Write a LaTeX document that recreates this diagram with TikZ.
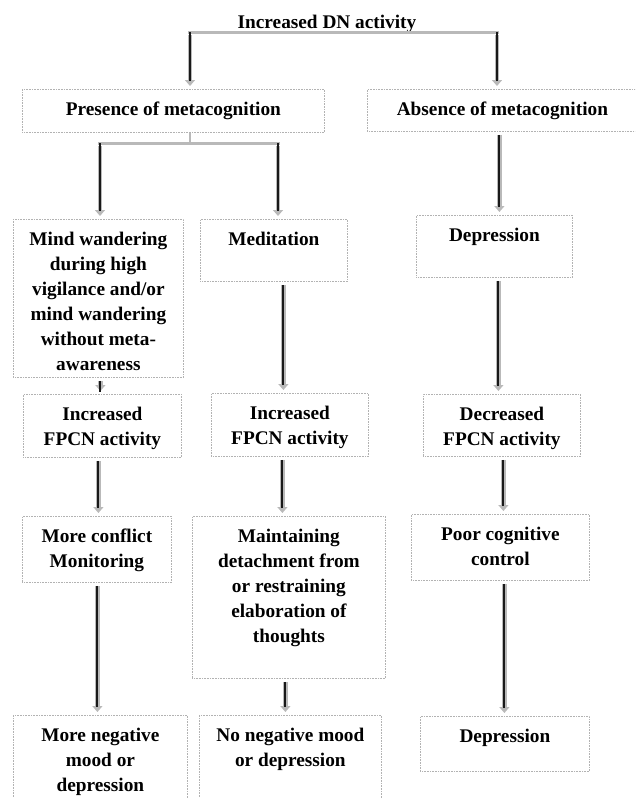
\documentclass[tikz,border=0pt]{standalone}
\usepackage{fontspec}
\setmainfont{Liberation Serif}
\usetikzlibrary{arrows.meta,calc}
\tikzset{
  box/.style={draw=gray!60, dash pattern=on 0.7pt off 0.9pt, line width=0.8pt, inner sep=0pt, anchor=north west},
  gline/.style={draw=gray!55, line width=3pt},
  arr/.style={preaction={draw, line width=4.4pt, gray!55, -{Triangle[width=10pt,length=6pt]}, shorten >=3pt, shorten <=3pt},
              draw=black!90, line width=2pt, shorten >=8pt, shorten <=3pt}
}
\newcommand\mybox[6]{\node[box] (#1) at (#2,#3) {\parbox[c][\dimexpr#5pt-#3pt\relax][t]{\dimexpr#4pt-#2pt\relax}{\centering\rule{0pt}{26pt}#6\par}};}
\begin{document}
\begin{tikzpicture}[x=1pt,y=-1pt,font=\fontsize{19.3}{25}\selectfont\bfseries]
\useasboundingbox (0,0) rectangle (635,798);
\clip (0,0) rectangle (635,798);
\node[anchor=base, inner sep=0pt] (title) at (327,28) {Increased DN activity};
\mybox{pres}{22}{89}{324}{132}{Presence of metacognition}
\mybox{abs}{367}{89}{637}{131}{Absence of metacognition}
\mybox{mw}{13}{219}{183}{377}{Mind wandering\\during high\\vigilance and/or\\mind wandering\\without meta-\\awareness}
\mybox{med}{200}{219}{347}{281}{Meditation}
\mybox{dep1}{416}{215}{572}{277}{Depression}
\mybox{fpL}{23}{394}{181}{457}{Increased\\FPCN activity}
\mybox{fpM}{211}{393}{368}{456}{Increased\\FPCN activity}
\mybox{fpR}{423}{394}{580}{456}{Decreased\\FPCN activity}
\mybox{mc}{22}{516}{171}{582}{More conflict\\Monitoring}
\mybox{maint}{192}{516}{385}{678}{Maintaining\\detachment from\\or restraining\\elaboration of\\thoughts}
\mybox{poor}{411}{514}{589}{580}{Poor cognitive\\control}
\mybox{negL}{13}{715}{187}{830}{More negative\\mood or\\depression}
\mybox{negM}{199}{715}{381}{830}{No negative mood\\or depression}
\mybox{dep2}{420}{716}{589}{771}{Depression}
% top bracket
\coordinate (tl) at (190,32);
\coordinate (tr) at (497,32);
\draw[gline] ([xshift=-2pt]tl) -- ([xshift=1.5pt]tr);
\draw[arr, shorten <=0pt] (tl) -- (tl |- pres.north);
\draw[arr, shorten <=0pt] (tr) -- (tr |- abs.north);
% presence bracket
\coordinate (ps) at (190,143);
\coordinate (pl) at (100,143);
\coordinate (pr) at (278,143);
\draw[draw=gray!55, line width=2pt] (ps |- pres.south) -- (ps);
\draw[gline] ([xshift=-2pt]pl) -- ([xshift=2pt]pr);
\draw[arr, shorten <=0pt] (pl) -- (pl |- mw.north);
\draw[arr, shorten <=0pt] (pr) -- (pr |- med.north);
% absence column
\draw[arr] ([xshift=-3pt]abs.south) -- ([xshift=-3pt]abs.south |- dep1.north);
\draw[arr] ([xshift=4pt]dep1.south) -- ([xshift=4pt]dep1.south |- fpR.north);
\draw[arr] ([xshift=1.5pt]fpR.south) -- ([xshift=1.5pt]fpR.south |- poor.north);
\draw[arr] ([xshift=4pt]poor.south) -- ([xshift=4pt]poor.south |- dep2.north);
% left column
\draw[arr, shorten >=2pt] ([xshift=2pt]mw.south) -- ([xshift=2pt]mw.south |- fpL.north);
\draw[arr] ([xshift=-4pt]fpL.south) -- ([xshift=-4pt]fpL.south |- mc.north);
\draw[arr] ([xshift=0.5pt]mc.south) -- ([xshift=0.5pt]mc.south |- negL.north);
% middle column
\draw[arr] ([xshift=9.5pt]med.south) -- ([xshift=9.5pt]med.south |- fpM.north);
\draw[arr] ([xshift=-7.5pt]fpM.south) -- ([xshift=-7.5pt]fpM.south |- maint.north);
\draw[arr] ([xshift=-3.5pt]maint.south) -- ([xshift=-3.5pt]maint.south |- negM.north);
\end{tikzpicture}
\end{document}
